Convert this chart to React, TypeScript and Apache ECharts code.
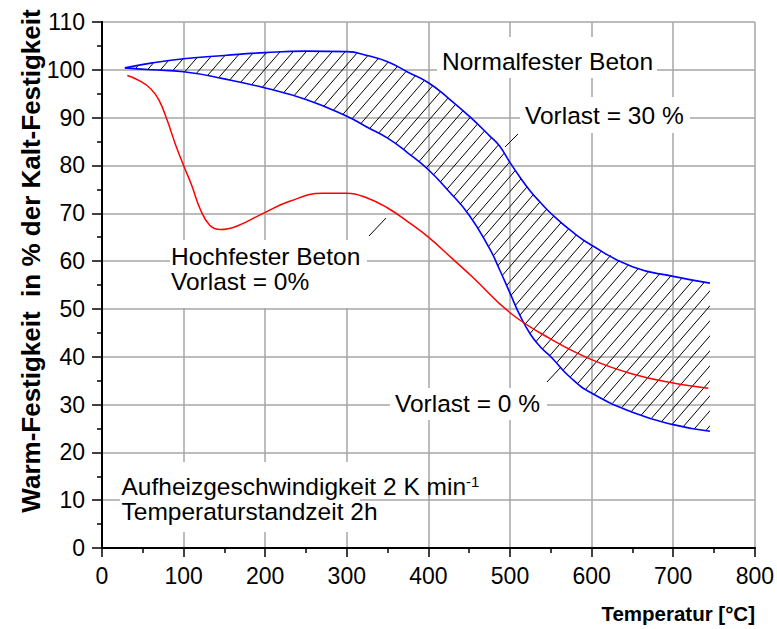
import React, { useEffect, useRef } from 'react';
import * as echarts from 'echarts';

// ---- data ----
const tempBand = [28, 60, 100, 150, 200, 250, 300, 325, 350, 375, 400, 425, 450, 475, 487, 500, 512, 525, 537, 550, 575, 600, 650, 700, 745];
const strengthVorlast30 = [100.4, 101.4, 102.3, 103.0, 103.6, 103.9, 103.8, 103.0, 101.7, 99.5, 97.3, 94.0, 90.3, 86.2, 84.1, 80.6, 77.6, 74.6, 72.3, 70.0, 66.3, 63.3, 58.8, 56.8, 55.4];
const strengthVorlast0 = [100.4, 100.0, 99.6, 98.1, 96.2, 93.8, 90.3, 88.0, 85.7, 82.6, 79.1, 74.6, 69.6, 62.6, 58.3, 53.3, 48.7, 44.7, 42.1, 40.0, 35.5, 32.4, 28.4, 25.8, 24.4];

const tempHigh = [31, 45, 60, 70, 80, 90, 100, 110, 120, 132, 145, 165, 200, 230, 270, 300, 325, 350, 375, 400, 430, 455, 500, 550, 600, 650, 700, 743];
const strengthHigh = [98.8, 97.8, 96.0, 93.6, 89.4, 84.4, 80.0, 75.8, 71.0, 67.5, 66.6, 67.3, 70.2, 72.5, 74.2, 74.2, 73.2, 71.1, 68.2, 65.0, 60.4, 56.5, 49.2, 43.7, 39.4, 36.4, 34.5, 33.4];

const xMin = 0, xMax = 800, xInterval = 100;
const yMin = 0, yMax = 110, yInterval = 10;

const xTitle = 'Temperatur [°C]';
const yTitle = 'Warm-Festigkeit  in % der Kalt-Festigkeit';
const labelNormal = 'Normalfester Beton';
const labelV30 = 'Vorlast = 30 %';
const labelHigh1 = 'Hochfester Beton';
const labelHigh2 = 'Vorlast = 0%';
const labelV0 = 'Vorlast = 0 %';
const noteLine1 = 'Aufheizgeschwindigkeit 2 K min';
const noteSup = '-1';
const noteLine2 = 'Temperaturstandzeit 2h';

const FONT = '"Liberation Sans", Arial, Helvetica, sans-serif';
const ANN = 24.5;

export default function App() {
  const ref = useRef<HTMLDivElement>(null);
  useEffect(() => {
    const chart = echarts.init(ref.current!, null, { renderer: 'svg' });

    const pw = 13, ph = 15;
    const canvas = document.createElement('canvas');
    canvas.width = pw;
    canvas.height = ph;
    const ctx = canvas.getContext('2d')!;
    ctx.strokeStyle = '#000';
    ctx.lineWidth = 1;
    ctx.beginPath();
    for (let k = -1; k <= 1; k++) {
      ctx.moveTo(k * pw, ph);
      ctx.lineTo(k * pw + pw, 0);
    }
    ctx.stroke();
    const hatch: any = { image: canvas, repeat: 'repeat', imageWidth: pw, imageHeight: ph };

    const txt = (x: number, y: number, text: string, size = ANN) => ({
      type: 'text', x, y, z: 11,
      style: { text, font: `${size}px ${FONT}`, fill: '#000', align: 'left', verticalAlign: 'middle', textAlign: 'left', textVerticalAlign: 'middle' },
    });
    const box = (x: number, y: number, width: number, height: number) => ({
      type: 'rect', z: 10, shape: { x, y, width, height }, style: { fill: '#fff' },
    });
    const lead = (x1: number, y1: number, x2: number, y2: number) => ({
      type: 'line', z: 11, shape: { x1, y1, x2, y2 }, style: { stroke: '#000', lineWidth: 1 },
    });

    const axisCommon = {
      axisLine: { lineStyle: { color: '#000', width: 2 } },
      axisTick: { show: true, inside: false, lineStyle: { color: '#000', width: 1.5 } },
      minorTick: { show: true, splitNumber: 2, lineStyle: { color: '#000', width: 1.5 } },
      splitLine: { show: true, lineStyle: { color: '#a6a6a6', width: 1.5 } },
    };

    chart.setOption({
      animation: false,
      backgroundColor: '#fff',
      grid: { left: 102, right: 22, top: 22, bottom: 81, containLabel: false },
      xAxis: [
        {
          type: 'value', min: xMin, max: xMax, interval: xInterval,
          ...axisCommon,
          axisTick: { ...axisCommon.axisTick, length: 9 },
          minorTick: { ...axisCommon.minorTick, length: 5 },
          axisLabel: { color: '#000', fontSize: 23, fontFamily: FONT, margin: 16 },
        },
        {
          type: 'value', position: 'top', min: xMin, max: xMax, interval: xInterval,
          axisLine: { show: true, lineStyle: { color: '#000', width: 2 } },
          axisTick: { show: false }, axisLabel: { show: false }, splitLine: { show: false },
        },
      ],
      yAxis: [
        {
          type: 'value', min: yMin, max: yMax, interval: yInterval,
          ...axisCommon,
          axisTick: { ...axisCommon.axisTick, length: 10 },
          minorTick: { ...axisCommon.minorTick, length: 5 },
          axisLabel: { color: '#000', fontSize: 23, fontFamily: FONT, margin: 17 },
        },
        {
          type: 'value', position: 'right', min: yMin, max: yMax, interval: yInterval,
          axisLine: { show: true, lineStyle: { color: '#000', width: 2 } },
          axisTick: { show: false }, axisLabel: { show: false }, splitLine: { show: false },
        },
      ],
      series: [
        {
          name: 'band',
          type: 'custom',
          silent: true,
          z: 1,
          xAxisIndex: 0,
          yAxisIndex: 0,
          data: [[tempBand[0], strengthVorlast30[0]]],
          renderItem: (_params: any, api: any) => {
            const pts: number[][] = [];
            for (let i = 0; i < tempBand.length; i++) pts.push(api.coord([tempBand[i], strengthVorlast30[i]]));
            for (let i = tempBand.length - 1; i >= 0; i--) pts.push(api.coord([tempBand[i], strengthVorlast0[i]]));
            return { type: 'polygon', shape: { points: pts, smooth: 0 }, style: { fill: hatch, stroke: null } };
          },
        },
        {
          name: 'Vorlast = 0 %',
          type: 'line',
          smooth: 0.5,
          symbol: 'none',
          z: 3,
          lineStyle: { color: '#0000ff', width: 1.6 },
          data: tempBand.map((t, i) => [t, strengthVorlast0[i]]),
        },
        {
          name: 'Vorlast = 30 %',
          type: 'line',
          smooth: 0.5,
          symbol: 'none',
          z: 3,
          lineStyle: { color: '#0000ff', width: 1.6 },
          data: tempBand.map((t, i) => [t, strengthVorlast30[i]]),
        },
        {
          name: 'Hochfester Beton',
          type: 'line',
          smooth: 0.45,
          symbol: 'none',
          z: 4,
          lineStyle: { color: '#ff0000', width: 1.5 },
          data: tempHigh.map((t, i) => [t, strengthHigh[i]]),
        },
      ],
      graphic: [
        box(437, 37, 220, 41),
        box(520, 97, 170, 36),
        box(170, 240, 197, 68),
        box(390, 388, 157, 32),
        box(120, 462, 240, 70),
        txt(442, 61, labelNormal),
        txt(525, 115.5, labelV30),
        txt(171, 256, labelHigh1),
        txt(171, 281, labelHigh2),
        txt(395, 403, labelV0),
        {
          type: 'text', x: 121.5, y: 486, z: 11,
          style: {
            text: `{a|${noteLine1}}{b|${noteSup}}`,
            font: `${ANN}px ${FONT}`,
            fill: '#000',
            align: 'left', verticalAlign: 'middle', textAlign: 'left', textVerticalAlign: 'middle',
            rich: {
              a: { font: `${ANN}px ${FONT}`, fill: '#000' },
              b: { font: `15px ${FONT}`, fill: '#000', verticalAlign: 'top' },
            },
          },
        },
        txt(121.5, 511, noteLine2),
        lead(505, 147, 518, 134),
        lead(369, 236, 386, 218),
        lead(547, 382, 561, 367),
        {
          type: 'text', x: 755, y: 613, z: 11,
          style: { text: xTitle, font: `bold 20.5px ${FONT}`, fill: '#000', align: 'right', verticalAlign: 'middle', textAlign: 'right', textVerticalAlign: 'middle' },
        },
        {
          type: 'text', x: 31, y: 261, z: 11, rotation: Math.PI / 2,
          style: { text: yTitle, font: `bold 26px ${FONT}`, fill: '#000', align: 'center', verticalAlign: 'middle', textAlign: 'center', textVerticalAlign: 'middle' },
        },
      ],
    });
    return () => chart.dispose();
  }, []);
  return <div ref={ref} style={{ position: 'fixed', left: 0, top: 0, width: 777, height: 629, background: '#fff' }} />;
}
